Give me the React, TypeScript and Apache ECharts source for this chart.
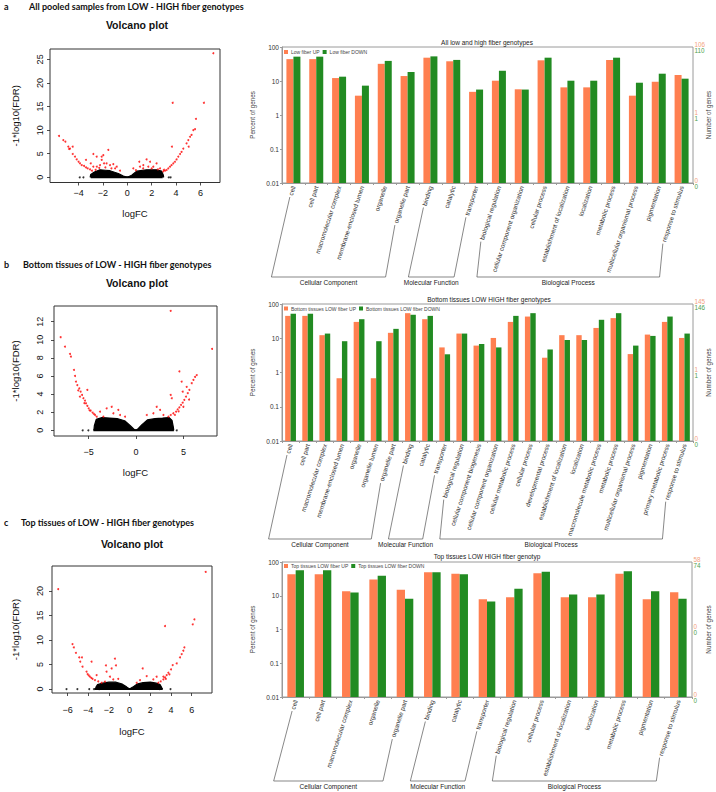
import React, { useEffect, useRef } from "react";
import * as echarts from "echarts";

const W = 716, H = 792;
const FONT = "'Liberation Sans', Arial, Helvetica, sans-serif";
const HEAD_FONT = "Lato, 'Liberation Sans', sans-serif";
const ORANGE = "#FF7F50";
const GREEN = "#228B22";
const ORANGE_TXT = "#F4A27E";
const GREEN_TXT = "#4E9F4E";

// ---------- texts ----------
const panelLetters = ["a", "b", "c"];
const panelHeadings = [
  "All pooled samples from LOW - HIGH fiber genotypes",
  "Bottom tissues of LOW - HIGH fiber genotypes",
  "Top tissues of LOW - HIGH fiber genotypes",
];
const volcanoTitle = "Volcano plot";
const goTitles = [
  "All low and high fiber genotypes",
  "Bottom tissues LOW HIGH fiber genotypes",
  "Top tissues LOW HIGH fiber genotyp",
];
const legendUp = ["Low fiber UP", "Bottom tissues LOW fiber UP", "Top tissues LOW fiber UP"];
const legendDown = ["Low fiber DOWN", "Bottom tissues LOW fiber DOWN", "Top tissues LOW fiber DOWN"];
const groupNames = ["Cellular Component", "Molecular Function", "Biological Process"];
const goTickLabels = ["0.01", "0.1", "1", "10", "100"];
const rightLabelsUp = [["106", "1", "0"], ["145", "1", "0"], ["58", "0", "0"]];
const rightLabelsDown = [["110", "1", "0"], ["146", "1", "0"], ["74", "0", "0"]];

// ---------- GO data (percent of genes) ----------
const goCatsA = ["cell", "cell part", "macromolecular complex", "membrane-enclosed lumen", "organelle", "organelle part",
  "binding", "catalytic", "transporter",
  "biological regulation", "cellular component organization", "cellular process", "establishment of localization",
  "localization", "metabolic process", "multicellular organismal process", "pigmentation", "response to stimulus"];
const groupsA = [6, 3, 9];
const upA = [44, 44, 12.2, 3.7, 32, 14, 48.5, 38, 4.8, 10.2, 5.7, 40.6, 6.5, 6.5, 41.5, 3.7, 9.5, 15];
const downA = [52, 52, 13.4, 7.3, 39, 18.4, 53, 41.7, 5.6, 20, 5.6, 48.5, 10.2, 10.2, 48.5, 8.9, 16.4, 11.7];

const goCatsB = ["cell", "cell part", "macromolecular complex", "membrane-enclosed lumen", "organelle", "organelle lumen", "organelle part",
  "binding", "catalytic", "transporter",
  "biological regulation", "cellular component biogenesis", "cellular component organization", "cellular metabolic process",
  "cellular process", "developmental process", "establishment of localization", "localization",
  "macromolecule metabolic process", "metabolic process", "multicellular organismal process", "pigmentation",
  "primary metabolic process", "response to stimulus"];
const groupsB = [7, 3, 14];
const upB = [45, 45, 12.3, 0.68, 30, 0.68, 14.4, 54, 36, 5.4, 13.7, 6.1, 10.2, 30, 43, 2.7, 12.3, 12.3, 20, 38.7, 3.45, 12.8, 30, 10.2];
const downB = [52, 52, 13.7, 8.2, 36, 8.2, 18.8, 48.5, 45, 3.4, 13.7, 6.8, 5.4, 45, 54, 4.7, 8.9, 8.9, 34.6, 54, 6.1, 11.7, 43, 13.7];

const goCatsC = ["cell", "cell part", "macromolecular complex", "organelle", "organelle part",
  "binding", "catalytic", "transporter",
  "biological regulation", "cellular process", "establishment of localization", "localization",
  "metabolic process", "pigmentation", "response to stimulus"];
const groupsC = [5, 3, 7];
const upC = [43.5, 43.5, 13.5, 30.4, 15, 50, 44.6, 7.9, 9.0, 46.6, 9.0, 9.0, 44.6, 7.9, 12.6];
const downC = [57, 57, 12.4, 39, 8.1, 50, 43.5, 6.8, 16.2, 51, 10.8, 10.8, 53, 13.5, 8.1];

// ---------- volcano data ----------
const xTicksA = [-4, -2, 0, 2, 4, 6];
const yTicksA = [0, 5, 10, 15, 20, 25];
const xTicksB = [-5, 0, 5];
const yTicksB = [0, 2, 4, 6, 8, 10, 12];
const xTicksC = [-6, -4, -2, 0, 2, 4, 6];
const yTicksC = [0, 5, 10, 15, 20];

const massA = [[-3.05, 0], [-3.0, 0.6], [-2.7, 1.1], [-2.24, 1.6], [-1.8, 1.5], [-1.42, 1.4], [-0.74, 0.8], [-0.33, 0.25],
  [0, 0], [0.36, 0.45], [0.77, 1.3], [1.58, 1.6], [2.4, 1.6], [2.81, 1.3], [2.95, 0.5], [2.98, 0]];
const baseA = [-3.0, 2.9];
const dotsA = [[-3.9, 0], [-3.6, 0], [3.4, 0], [3.55, 0], [-2.75, 0.1]];
const redA = [[-5.6, 8.76], [-5.25, 7.9], [-5.08, 7.56], [-4.84, 6.5], [-4.78, 6.0], [-4.7, 6.1], [-4.48, 6.5], [-4.48, 4.94],
  [-4.29, 4.4], [-4.15, 3.8], [-4.0, 3.3], [-3.88, 2.97], [-3.74, 2.6], [-3.55, 2.4], [-3.39, 2.1], [-3.25, 1.9],
  [-3.06, 1.7], [-2.9, 1.4], [-3.39, 3.7], [-2.79, 4.94], [-2.51, 4.4], [-2.1, 4.4], [-2.1, 3.7], [-1.97, 4.7],
  [-1.91, 2.97], [-1.7, 2.97], [-1.56, 5.8], [-1.42, 2.6], [-1.15, 2.8], [-2.5, 2.26], [-2.24, 2.6], [-2.79, 2.26],
  [-3.0, 2.97], [-1.0, 1.9], [-0.87, 2.26], [-2.6, 1.6], [-2.3, 2.0], [-1.8, 2.1], [-1.3, 1.9], [-0.6, 1.4],
  [7.05, 26.3], [3.72, 15.8], [6.28, 15.8], [5.63, 12.4], [5.55, 10.2], [5.41, 10.0], [5.27, 9.0], [5.14, 8.6],
  [5.0, 7.9], [4.86, 7.2], [5.03, 6.5], [3.66, 6.5], [4.59, 6.1], [4.45, 5.4], [4.32, 4.94], [4.18, 4.4], [4.04, 3.8],
  [3.9, 3.3], [3.77, 2.97], [3.63, 2.6], [3.5, 2.26], [3.36, 1.9], [3.22, 1.55], [3.09, 1.4], [2.95, 1.27],
  [1.58, 3.8], [1.86, 3.3], [2.4, 2.97], [0.98, 3.3], [1.31, 2.6], [2.13, 2.26], [2.68, 1.9], [1.04, 2.26],
  [0.49, 1.9], [1.72, 2.26], [1.3, 1.9], [2.0, 1.9], [2.5, 1.7], [0.7, 1.5], [3.0, 1.6]];

const massB = [[-4.45, 0], [-4.4, 0.5], [-4.2, 1.2], [-3.6, 1.4], [-2.8, 1.35], [-2.0, 1.3], [-1.2, 1.05], [-0.6, 0.5],
  [-0.25, 0.15], [0, 0], [0.25, 0.2], [0.6, 0.6], [1.2, 1.15], [2.0, 1.3], [2.8, 1.35], [3.5, 1.4], [3.8, 1.1],
  [3.95, 0.3], [3.98, 0]];
const baseB = [-4.5, 4.0];
const dotsB = [[-5.63, 0], [-5.03, 0], [4.3, 0]];
const redB = [[-7.96, 10.28], [-7.5, 9.24], [-6.97, 8.43], [-6.87, 8.14], [-6.55, 6.67], [-6.44, 6.0], [-6.34, 5.38],
  [-6.2, 5.0], [-5.99, 4.64], [-5.85, 4.27], [-5.7, 3.9], [-5.56, 3.54], [-5.39, 3.28], [-5.28, 2.98], [-5.14, 2.69],
  [-5.0, 2.43], [-4.79, 2.17], [-4.58, 1.95], [-4.33, 1.69], [-4.15, 1.5], [-5.14, 4.46], [-5.92, 3.72],
  [-3.1, 2.43], [-2.57, 2.6], [-2.39, 1.88], [-1.87, 2.25], [-1.69, 1.69], [-3.8, 2.06], [-3.45, 1.5], [-1.16, 1.5],
  [-4.9, 2.2], [-4.45, 1.8], [-5.45, 3.0], [-6.1, 4.4],
  [3.66, 13.2], [8.03, 8.99], [4.58, 6.5], [6.41, 6.1], [6.23, 5.9], [6.06, 5.56], [5.88, 5.2], [5.63, 4.46],
  [5.46, 4.1], [5.28, 3.72], [5.1, 3.35], [4.93, 3.06], [4.75, 2.8], [4.58, 2.54], [4.4, 2.32], [4.23, 2.06],
  [3.94, 1.88], [3.66, 1.69], [3.42, 1.5], [3.66, 3.9], [3.77, 3.54], [4.93, 4.27], [5.35, 4.8], [2.18, 2.6],
  [2.54, 2.25], [1.83, 1.88], [1.13, 1.69], [2.89, 1.69], [4.82, 5.38], [4.1, 1.7], [4.5, 2.1], [5.0, 2.6], [5.6, 3.4]];

const massC = [[-3.3, 0], [-3.25, 0.4], [-3.1, 0.9], [-2.6, 1.2], [-2.0, 1.4], [-1.3, 1.4], [-0.7, 1.0], [-0.3, 0.45],
  [0, 0], [0.3, 0.4], [0.7, 1.0], [1.3, 1.3], [2.0, 1.4], [2.6, 1.2], [2.95, 0.9], [3.1, 0.3], [3.15, 0]];
const baseC = [-3.4, 3.2];
const dotsC = [[-6.1, 0], [-5.05, 0], [-3.9, 0], [-3.45, 0], [-2.95, 0], [2.9, 0], [3.95, 0]];
const redC = [[-6.9, 20.4], [-5.52, 9.18], [-5.39, 8.5], [-5.19, 7.4], [-4.87, 6.46], [-4.61, 6.46], [-4.77, 5.58],
  [-4.55, 4.56], [-3.68, 5.58], [-4.16, 3.54], [-4.06, 3.06], [-3.84, 2.52], [-3.58, 2.1], [-3.35, 1.84],
  [-3.03, 1.56], [-2.71, 1.29], [-3.19, 2.86], [-2.23, 3.54], [-2.29, 4.83], [-1.42, 6.2], [-1.32, 4.83],
  [-1.74, 4.2], [-1.9, 2.52], [-1.58, 1.97], [-1.1, 2.1], [-2.39, 1.5], [-3.95, 2.8], [-3.7, 2.3],
  [7.35, 23.9], [3.42, 12.86], [6.26, 14.2], [6.1, 13.2], [5.29, 8.5], [5.19, 7.82], [5.03, 7.14], [4.87, 6.46],
  [4.55, 5.24], [4.16, 4.9], [4.0, 4.0], [3.74, 3.33], [3.58, 2.86], [3.42, 2.38], [3.26, 1.97], [3.0, 1.56],
  [2.77, 1.29], [1.26, 4.2], [1.65, 2.65], [1.0, 1.84], [2.29, 1.97], [2.61, 2.52], [3.26, 2.52], [0.68, 1.29],
  [3.5, 2.1], [3.85, 3.0]];

// ---------- layout ----------
const VOL = [
  { grid: { left: 50, top: 49, width: 170, height: 133.5 }, x: [-6.34, 7.6], y: [-1.1, 27.2], xt: xTicksA, yt: yTicksA,
    mass: massA, base: baseA, dots: dotsA, red: redA, xm: 6, ym: 6, xg: 26, yg: 29.5, titleX: 137, titleY: 25 },
  { grid: { left: 54, top: 306, width: 163, height: 130 }, x: [-8.66, 8.55], y: [-0.63, 13.73], xt: xTicksB, yt: yTicksB,
    mass: massB, base: baseB, dots: dotsB, red: redB, xm: 11, ym: 10, xg: 31, yg: 33.5, titleX: 137, titleY: 283 },
  { grid: { left: 52, top: 566, width: 160, height: 127 }, x: [-7.5, 7.96], y: [-0.8, 25.1], xt: xTicksC, yt: yTicksC,
    mass: massC, base: baseC, dots: dotsC, red: redC, xm: 12, ym: 8, xg: 33, yg: 31.5, titleX: 132, titleY: 544 },
];
const GO = [
  { grid: { left: 282, top: 47, width: 411, height: 136 }, cats: goCatsA, up: upA, down: downA, groups: groupsA,
    barWidth: 7, bracketY: 277, titleX: 487, titleY: 42, legendTop: 49.5 },
  { grid: { left: 282, top: 304, width: 411, height: 137 }, cats: goCatsB, up: upB, down: downB, groups: groupsB,
    barWidth: 5.4, bracketY: 539, titleX: 489, titleY: 299, legendTop: 306 },
  { grid: { left: 282, top: 562, width: 410, height: 135 }, cats: goCatsC, up: upC, down: downC, groups: groupsC,
    barWidth: 8.3, bracketY: 781, titleX: 487, titleY: 556, legendTop: 563.5 },
];
const HEAD_Y = [6, 264, 522];
const HEAD_TEXT_X = [29, 23, 21];

const LABEL_FS = 6.4;
const LABEL_ROT = 72;
const LABEL_MARGIN = 3;

const minus = (v: number) => String(v).replace("-", "\u2212");

function buildOption() {
  const grid: any[] = [];
  const xAxis: any[] = [];
  const yAxis: any[] = [];
  const series: any[] = [];
  const legend: any[] = [];
  for (let k = 0; k < 3; k++) {
    const v = VOL[k];
    const gi = 2 * k;
    grid.push({ ...v.grid, show: true, borderColor: "#333", borderWidth: 1, backgroundColor: "transparent" });
    xAxis.push({
      type: "value", gridIndex: gi, min: v.x[0], max: v.x[1], position: "bottom",
      axisLine: { show: false, onZero: false }, splitLine: { show: false },
      axisTick: { show: true, length: 3, customValues: v.xt, lineStyle: { color: "#222", width: 0.8 } },
      axisLabel: { customValues: v.xt, margin: v.xm, fontSize: 9, color: "#111", fontFamily: FONT, formatter: minus },
      name: "logFC", nameLocation: "middle", nameGap: v.xg,
      nameTextStyle: { fontSize: 9.5, color: "#111", fontFamily: FONT },
    });
    yAxis.push({
      type: "value", gridIndex: gi, min: v.y[0], max: v.y[1], position: "left",
      axisLine: { show: false, onZero: false }, splitLine: { show: false },
      axisTick: { show: true, length: 3, customValues: v.yt, lineStyle: { color: "#222", width: 0.8 } },
      axisLabel: { customValues: v.yt, rotate: 90, margin: v.ym, fontSize: 9, color: "#111", fontFamily: FONT },
      name: "-1*log10(FDR)", nameLocation: "middle", nameGap: v.yg,
      nameTextStyle: { fontSize: 9.5, color: "#111", fontFamily: FONT },
    });
    series.push({
      type: "line", xAxisIndex: gi, yAxisIndex: gi, data: v.mass, symbol: "none", silent: true,
      lineStyle: { color: "#000", width: 1.2 }, areaStyle: { color: "#000", opacity: 1 }, z: 2,
    });
    series.push({
      type: "line", xAxisIndex: gi, yAxisIndex: gi, data: [[v.base[0], 0], [v.base[1], 0]], symbol: "none",
      silent: true, lineStyle: { color: "#000", width: 2 }, z: 2,
    });
    series.push({
      type: "scatter", xAxisIndex: gi, yAxisIndex: gi, data: v.dots, symbolSize: 2, silent: true,
      itemStyle: { color: "#000" }, z: 3,
    });
    series.push({
      type: "scatter", xAxisIndex: gi, yAxisIndex: gi, data: v.red, symbolSize: 2, silent: true,
      itemStyle: { color: "#FF0000" }, z: 4,
    });

    const g = GO[k];
    const gj = 2 * k + 1;
    grid.push({ ...g.grid, show: true, borderColor: "#9a9a9a", borderWidth: 1, backgroundColor: "transparent" });
    xAxis.push({
      type: "category", gridIndex: gj, data: g.cats,
      axisLine: { show: true, lineStyle: { color: "#9a9a9a" } },
      axisTick: { show: true, length: 2, lineStyle: { color: "#9a9a9a" } },
      splitLine: { show: false },
      axisLabel: { interval: 0, rotate: LABEL_ROT, margin: LABEL_MARGIN, fontSize: LABEL_FS, color: "#333", fontFamily: FONT },
    });
    yAxis.push({
      type: "value", gridIndex: gj, min: 0, max: 4, interval: 1,
      axisLine: { show: true, lineStyle: { color: "#9a9a9a" } },
      axisTick: { show: true, length: 2, lineStyle: { color: "#9a9a9a" } },
      splitLine: { show: false },
      axisLabel: { fontSize: 6.5, color: "#333", margin: 3, fontFamily: FONT, formatter: (val: number) => goTickLabels[val] },
      name: "Percent of genes", nameLocation: "middle", nameGap: 12,
      nameTextStyle: { fontSize: 6.3, color: "#444", fontFamily: FONT },
    });
    series.push({
      type: "bar", name: legendUp[k], xAxisIndex: gj, yAxisIndex: gj,
      data: g.up.map((d) => Math.log10(d) + 2), barWidth: g.barWidth, barGap: "0%",
      itemStyle: { color: ORANGE }, silent: true,
    });
    series.push({
      type: "bar", name: legendDown[k], xAxisIndex: gj, yAxisIndex: gj,
      data: g.down.map((d) => Math.log10(d) + 2), barWidth: g.barWidth, barGap: "0%",
      itemStyle: { color: GREEN }, silent: true,
    });
    legend.push({
      data: [legendUp[k], legendDown[k]], left: 284, top: g.legendTop, padding: 0,
      itemWidth: 4, itemHeight: 4, itemGap: 3, icon: "rect", selectedMode: false,
      textStyle: { fontSize: 5, color: "#444", fontFamily: FONT, padding: [0, 0, 0, -2] },
    });
  }
  return { animation: false, backgroundColor: "#fff", grid, xAxis, yAxis, series, legend };
}

function buildGraphics(chart: any) {
  const cvs = document.createElement("canvas");
  const ctx = cvs.getContext("2d") as CanvasRenderingContext2D;
  const measure = (t: string, fs: number) => {
    ctx.font = `${fs}px 'Liberation Sans', Arial, Helvetica, sans-serif`;
    return ctx.measureText(t).width;
  };
  const els: any[] = [];
  const txt = (x: number, y: number, text: string, font: string, fill: string, align = "left", rotation = 0) => {
    els.push({
      type: "text", x, y, rotation, silent: true,
      style: { text, font, fill, textAlign: align, align, textVerticalAlign: "middle", verticalAlign: "middle" },
    });
  };
  for (let k = 0; k < 3; k++) {
    txt(4, HEAD_Y[k], panelLetters[k], `bold 9px ${HEAD_FONT}`, "#111");
    txt(HEAD_TEXT_X[k], HEAD_Y[k], panelHeadings[k], `bold 9px ${HEAD_FONT}`, "#111");
    const v = VOL[k];
    txt(v.titleX, v.titleY, volcanoTitle, `bold 10.5px ${FONT}`, "#111", "center");

    const g = GO[k];
    const gj = 2 * k + 1;
    txt(g.titleX, g.titleY, goTitles[k], `6.5px ${FONT}`, "#222", "center");
    const rightX = g.grid.left + g.grid.width + 1.5;
    const levels = [4, 2, 0];
    for (let i = 0; i < 3; i++) {
      const py = chart.convertToPixel({ yAxisIndex: gj }, levels[i]);
      txt(rightX, py - 3, rightLabelsUp[k][i], `6.3px ${FONT}`, ORANGE_TXT);
      txt(rightX, py + 3, rightLabelsDown[k][i], `6.3px ${FONT}`, GREEN_TXT);
    }
    txt(708, g.grid.top + g.grid.height / 2, "Number of genes", `6.3px ${FONT}`, "#444", "center", Math.PI / 2);

    // brackets
    const axisY = g.grid.top + g.grid.height;
    const ang = (LABEL_ROT * Math.PI) / 180;
    const startOf = (i: number) => {
      const cx = chart.convertToPixel({ xAxisIndex: gj }, i);
      const w = measure(g.cats[i], LABEL_FS) + 2;
      return [cx - w * Math.cos(ang), axisY + LABEL_MARGIN + w * Math.sin(ang)];
    };
    let idx = 0;
    for (let gi = 0; gi < g.groups.length; gi++) {
      const first = idx;
      const last = idx + g.groups[gi] - 1;
      idx = last + 1;
      const c1 = chart.convertToPixel({ xAxisIndex: gj }, first) - 22;
      const c2 = chart.convertToPixel({ xAxisIndex: gj }, last) - 22;
      const s1 = startOf(first);
      const s2 = startOf(last);
      els.push({
        type: "polyline", silent: true,
        shape: { points: [s1, [c1, g.bracketY], [c2, g.bracketY], s2] },
        style: { stroke: "#555", lineWidth: 0.7, fill: null },
      });
      txt((c1 + c2) / 2, g.bracketY + 5.5, groupNames[gi], `6.5px ${FONT}`, "#222", "center");
    }
  }
  return els;
}

export default function App() {
  const ref = useRef<HTMLDivElement>(null);
  useEffect(() => {
    const el = ref.current as HTMLDivElement;
    const chart = echarts.init(el, null, { renderer: "svg", width: W, height: H });
    chart.setOption(buildOption() as any);
    chart.setOption({ graphic: buildGraphics(chart) } as any);
    return () => chart.dispose();
  }, []);
  return (
    <div
      ref={ref}
      style={{ position: "absolute", left: 0, top: 0, width: W, height: H, background: "#fff" }}
    />
  );
}
